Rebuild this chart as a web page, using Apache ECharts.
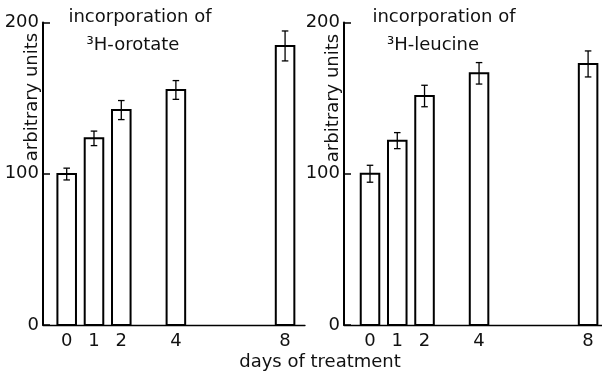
<!DOCTYPE html>
<html>
<head>
<meta charset="utf-8">
<script src="https://cdn.jsdelivr.net/npm/echarts@6/dist/echarts.min.js"></script>
<style>
html,body{margin:0;padding:0;background:#fff;}
#c{width:602px;height:374px;}
</style>
</head>
<body>
<div id="c"></div>
<script>
const days = [0, 1, 2, 4, 8];
const dayLabels = [0, 1, 2, 4, 8];
const orotate = [99.8, 123.4, 142.1, 155.4, 184.5];
const orotateErr = [3.9, 4.8, 6.3, 6.2, 9.9];
const leucine = [100, 121.9, 151.4, 166.4, 172.6];
const leucineErr = [5.6, 5.3, 7.1, 7.1, 8.6];
const yTicks = [0, 100, 200];

const FONT = 'DejaVu Sans';
const BAR_W = 0.68;
const CAP_W = 0.24;

function renderBar(params, api) {
  const x = api.value(0), y = api.value(1), e = api.value(2);
  const p0 = api.coord([x - BAR_W / 2, 0]);
  const p1 = api.coord([x + BAR_W / 2, y]);
  const top = api.coord([x, y + e]);
  const bot = api.coord([x, y - e]);
  const capL = api.coord([x - CAP_W / 2, 0])[0];
  const capR = api.coord([x + CAP_W / 2, 0])[0];
  const lineStyle = {stroke: '#000', lineWidth: 1.3};
  return {
    type: 'group',
    children: [
      {type: 'rect', shape: {x: p0[0], y: p1[1], width: p1[0] - p0[0], height: p0[1] - p1[1]},
       style: {fill: '#fff', stroke: '#000', lineWidth: 2}},
      {type: 'line', shape: {x1: top[0], y1: top[1], x2: bot[0], y2: bot[1]}, style: lineStyle},
      {type: 'line', shape: {x1: capL, y1: top[1], x2: capR, y2: top[1]}, style: lineStyle},
      {type: 'line', shape: {x1: capL, y1: bot[1], x2: capR, y2: bot[1]}, style: lineStyle}
    ]
  };
}

function mkX(idx, min, max) {
  return {
    type: 'value', gridIndex: idx, min: min, max: max,
    splitLine: {show: false},
    axisLine: {show: true, onZero: false, lineStyle: {color: '#000', width: 1.3}},
    axisTick: {show: false},
    axisLabel: {show: true, customValues: dayLabels, color: '#111', fontFamily: FONT, fontSize: 18, margin: 7}
  };
}
function mkY(idx) {
  return {
    type: 'value', gridIndex: idx, min: 0, max: 200, interval: 100,
    splitLine: {show: false},
    axisLine: {show: true, onZero: false, lineStyle: {color: '#000', width: 2}},
    axisTick: {show: true, inside: true, length: 7, lineStyle: {color: '#000', width: 1.5}},
    axisLabel: {color: '#111', fontFamily: FONT, fontSize: 18, margin: 4,
      customValues: yTicks}
  };
}

function mkData(vals, errs) {
  return days.map((d, i) => [d, vals[i], errs[i]]);
}

const txt = (x, y, s, rot) => ({
  type: 'text', x: x, y: y, rotation: rot || 0,
  style: {text: s, fill: '#111', font: '18px "' + FONT + '"', align: 'center', verticalAlign: 'middle'}
});

const chart = echarts.init(document.getElementById('c'), null, {renderer: 'canvas'});
chart.setOption({
  backgroundColor: '#fff',
  animation: false,
  grid: [
    {left: 43, top: 22.5, width: 262, height: 302.5},
    {left: 344, top: 22.5, width: 258, height: 302.5}
  ],
  xAxis: [mkX(0, -0.868, 8.73), mkX(1, -0.954, 8.51)],
  yAxis: [mkY(0), mkY(1)],
  series: [
    {type: 'custom', xAxisIndex: 0, yAxisIndex: 0, renderItem: renderBar, data: mkData(orotate, orotateErr)},
    {type: 'custom', xAxisIndex: 1, yAxisIndex: 1, renderItem: renderBar, data: mkData(leucine, leucineErr)}
  ],
  graphic: [
    txt(140, 17, 'incorporation of'),
    txt(133, 45, '³H-orotate'),
    txt(444, 17, 'incorporation of'),
    txt(433, 45, '³H-leucine'),
    txt(32, 97, 'arbitrary units', Math.PI / 2),
    txt(333, 98, 'arbitrary units', Math.PI / 2),
    txt(320, 362, 'days of treatment')
  ]
});
</script>
</body>
</html>
